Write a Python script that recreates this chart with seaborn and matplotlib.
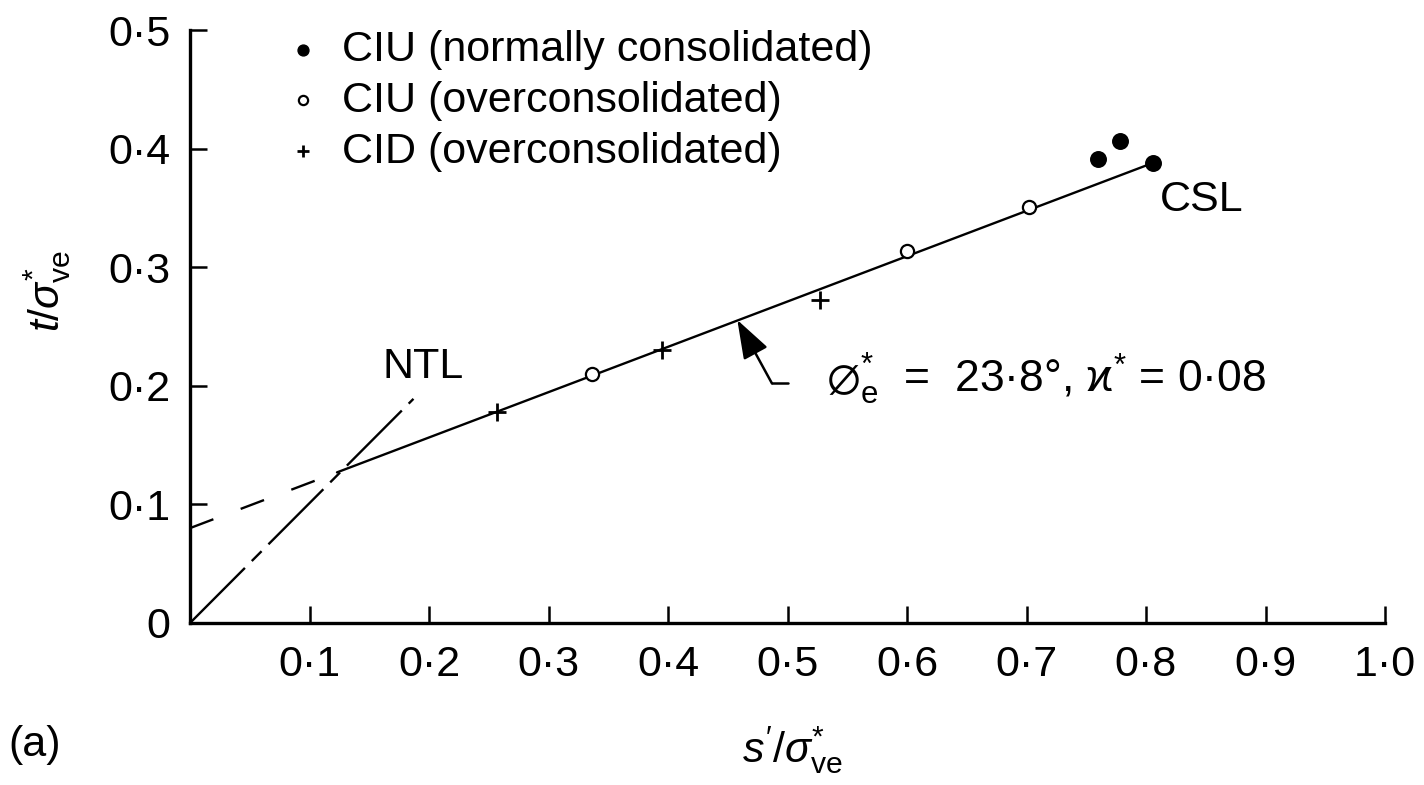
import matplotlib
matplotlib.use("Agg")
import matplotlib.pyplot as plt
import pandas as pd
import seaborn as sns
from matplotlib.ticker import FixedLocator, FuncFormatter

# values (s'/sigma*_ve, t/sigma*_ve)
nc_s = [0.760, 0.778, 0.806]   # CIU normally consolidated
nc_t = [0.391, 0.406, 0.388]
oc_s = [0.336, 0.600, 0.702]   # CIU overconsolidated
oc_t = [0.210, 0.314, 0.351]
cid_s = [0.257, 0.395, 0.527]  # CID overconsolidated
cid_t = [0.178, 0.230, 0.272]

csl_s = [0.123, 0.806]
csl_t = [0.127, 0.388]
ext_s = [0.0, 0.123]
ext_t = [0.080, 0.127]
ntl_s = [0.0, 0.187]
ntl_t = [0.0, 0.189]

x_ticks = [0.1, 0.2, 0.3, 0.4, 0.5, 0.6, 0.7, 0.8, 0.9, 1.0]
y_ticks = [0.0, 0.1, 0.2, 0.3, 0.4, 0.5]

labels = ["CIU (normally consolidated)", "CIU (overconsolidated)", "CID (overconsolidated)"]

sns.set_theme(style="white", context="paper")
plt.rcParams["font.family"] = ["Liberation Sans", "DejaVu Sans"]
plt.rcParams["mathtext.fontset"] = "custom"
plt.rcParams["mathtext.rm"] = "Liberation Sans"
plt.rcParams["mathtext.it"] = "Liberation Sans:italic"
plt.rcParams["mathtext.sf"] = "Liberation Sans"
plt.rcParams["mathtext.fallback"] = "stixsans"
plt.rcParams["lines.scale_dashes"] = False
for key in ["text.color", "axes.labelcolor", "xtick.color", "ytick.color"]:
    plt.rcParams[key] = "black"

FS = 31

fig = plt.figure(figsize=(14.24, 7.85), dpi=100)
ax = fig.add_axes([190 / 1424, 1 - 623 / 785, 1195 / 1424, 593 / 785])

lw = 1.7
sns.lineplot(x=csl_s, y=csl_t, ax=ax, color="black", lw=lw, estimator=None, sort=False)
sns.lineplot(x=ext_s, y=ext_t, ax=ax, color="black", lw=lw, estimator=None, sort=False,
             linestyle=(0, (18, 21)))
sns.lineplot(x=ntl_s, y=ntl_t, ax=ax, color="black", lw=lw, estimator=None, sort=False,
             linestyle=(0, (56, 7, 10, 7)))

sns.scatterplot(x=nc_s, y=nc_t, ax=ax, marker="o", s=125, color="black",
                edgecolor="black", linewidth=1, label=labels[0], zorder=5)
sns.scatterplot(x=oc_s, y=oc_t, ax=ax, marker="o", s=90, facecolor="white",
                edgecolor="black", linewidth=1.6, label=labels[1], zorder=5)
sns.scatterplot(x=cid_s, y=cid_t, ax=ax, marker="+", s=150, color="black",
                linewidth=2, label=labels[2], zorder=5)

ax.set_xlim(0, 1.0)
ax.set_ylim(0, 0.5)
ax.xaxis.set_major_locator(FixedLocator(x_ticks))
ax.yaxis.set_major_locator(FixedLocator(y_ticks))
dot = lambda v, _: "0" if v == 0 else f"{v:.1f}".replace(".", "\u00b7")
ax.xaxis.set_major_formatter(FuncFormatter(dot))
ax.yaxis.set_major_formatter(FuncFormatter(dot))
ax.tick_params(axis="both", direction="in", length=12, width=1.8, colors="black",
               labelsize=FS, bottom=True, left=True)
ax.tick_params(axis="x", pad=16)
ax.tick_params(axis="y", pad=14)
sns.despine(ax=ax)
for side in ["left", "bottom"]:
    ax.spines[side].set_linewidth(2.4)
    ax.spines[side].set_color("black")

ax.set_xlabel(r"$s'/\sigma^{*}_{\mathrm{ve}}$", fontsize=FS)
ax.set_ylabel(r"$t/\sigma^{*}_{\mathrm{ve}}$", fontsize=FS)
ax.xaxis.set_label_coords(0.504, -0.17)
ax.yaxis.set_label_coords(-0.098, 0.56)
fig.text(8 / 1424, 1 - 745 / 785, "(a)", fontsize=FS, va="center", ha="left")

ax.text(0.812, 0.357, "CSL", fontsize=FS, va="center", ha="left")
ax.text(0.1615, 0.216, "NTL", fontsize=FS, va="center", ha="left")

ax.annotate("", xy=(0.458, 0.2555), xytext=(0.487, 0.202),
            arrowprops=dict(arrowstyle="-|>,head_length=1.0,head_width=0.35",
                            color="black", lw=1.8, mutation_scale=24, shrinkA=0, shrinkB=0))
ax.plot([0.487, 0.500], [0.202, 0.202], color="black", lw=1.8)
ax.text(0.532, 0.205,
        r"$\varnothing^{*}_{\mathrm{e}}$  =  23·8°, $\mathrm{\varkappa}^{*}$ = 0·08",
        fontsize=FS + 1, va="center", ha="left")

ax.legend(loc="upper left", bbox_to_anchor=(0.08, 1.0), frameon=False, fontsize=FS,
          markerscale=0.7, handlelength=0.8, handletextpad=0.5, labelspacing=0.25,
          borderpad=0, borderaxespad=0)

fig.savefig("out.png", dpi=100, facecolor="white")
